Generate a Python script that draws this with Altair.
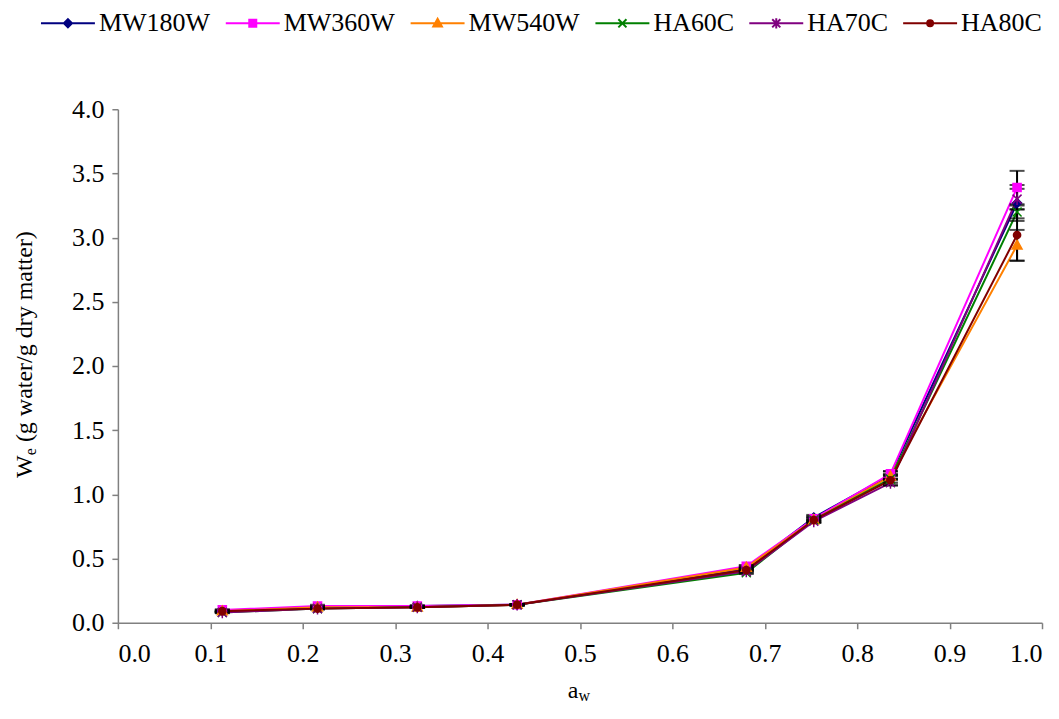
import altair as alt
import pandas as pd

# ---------------- data ----------------
series = ["MW180W", "MW360W", "MW540W", "HA60C", "HA70C", "HA80C"]
aw = [0.113, 0.216, 0.324, 0.432, 0.680, 0.753, 0.836, 0.973]

we_mw180w = [0.09, 0.12, 0.13, 0.14, 0.42, 0.82, 1.15, 3.27]
we_mw360w = [0.10, 0.13, 0.13, 0.14, 0.44, 0.81, 1.16, 3.39]
we_mw540w = [0.09, 0.12, 0.12, 0.14, 0.43, 0.80, 1.14, 2.94]
we_ha60c = [0.08, 0.11, 0.12, 0.14, 0.39, 0.80, 1.12, 3.20]
we_ha70c = [0.08, 0.11, 0.12, 0.14, 0.40, 0.79, 1.09, 3.30]
we_ha80c = [0.09, 0.11, 0.12, 0.14, 0.41, 0.80, 1.11, 3.02]

err_mw180w = [0.005, 0.010, 0.005, 0.005, 0.010, 0.020, 0.030, 0.14]
err_mw360w = [0.005, 0.010, 0.005, 0.005, 0.010, 0.020, 0.020, 0.13]
err_mw540w = [0.005, 0.005, 0.005, 0.005, 0.010, 0.010, 0.020, 0.12]
err_ha60c = [0.005, 0.005, 0.005, 0.005, 0.010, 0.020, 0.030, 0.05]
err_ha70c = [0.005, 0.005, 0.005, 0.005, 0.010, 0.010, 0.020, 0.08]
err_ha80c = [0.005, 0.005, 0.005, 0.005, 0.010, 0.020, 0.040, 0.20]

x_ticks = [0.0, 0.1, 0.2, 0.3, 0.4, 0.5, 0.6, 0.7, 0.8, 0.9, 1.0]
y_ticks = [0.0, 0.5, 1.0, 1.5, 2.0, 2.5, 3.0, 3.5, 4.0]

# ---------------- styles ----------------
colors = ["#000080", "#FF00FF", "#FF8000", "#008000", "#800080", "#800000"]
marker_paths = [
    "M0,-1L1,0L0,1L-1,0Z",
    "M-0.9,-0.9H0.9V0.9H-0.9Z",
    "M0,-1.15L1.1,0.8H-1.1Z",
    "M-1,-1L1,1M-1,1L1,-1",
    "M-1,-1L1,1M-1,1L1,-1M0,-1.3L0,1.3",
    "M0.8,0A0.8,0.8 0 1,1 -0.8,0A0.8,0.8 0 1,1 0.8,0Z",
]
legend_paths = [
    "M-1,0H1M0,-0.15L0.15,0L0,0.15L-0.15,0Z",
    "M-1,0H1M-0.13,-0.13H0.13V0.13H-0.13Z",
    "M-1,0H1M0,-0.17L0.16,0.12H-0.16Z",
    "M-1,0H1M-0.15,-0.15L0.15,0.15M-0.15,0.15L0.15,-0.15",
    "M-1,0H1M-0.15,-0.15L0.15,0.15M-0.15,0.15L0.15,-0.15M0,-0.19L0,0.19",
    "M-1,0H1M0.11,0A0.11,0.11 0 1,1 -0.11,0A0.11,0.11 0 1,1 0.11,0Z",
]
FONT = "'Liberation Serif', 'Times New Roman', Times, serif"

values = [we_mw180w, we_mw360w, we_mw540w, we_ha60c, we_ha70c, we_ha80c]
errors = [err_mw180w, err_mw360w, err_mw540w, err_ha60c, err_ha70c, err_ha80c]
rows = []
for s, vals, errs in zip(series, values, errors):
    for a, v, e in zip(aw, vals, errs):
        rows.append({"series": s, "aw": a, "we": v, "lo": v - e, "hi": v + e})
df = pd.DataFrame(rows)

x_enc = alt.X("aw:Q", scale=alt.Scale(domain=[0, 1], nice=False, zero=False),
              axis=alt.Axis(values=x_ticks, format=".1f", title=None, labelPadding=12))
y_enc = alt.Y("we:Q", scale=alt.Scale(domain=[0, 4], nice=False),
              axis=alt.Axis(values=y_ticks, format=".1f", title=None, labelPadding=8))

def col_scale():
    return alt.Scale(domain=series, range=colors)

base = alt.Chart(df)

lines = base.mark_line(strokeWidth=2).encode(
    x=x_enc, y=y_enc,
    stroke=alt.Stroke("series:N", scale=col_scale(), legend=None),
)

err_rules = base.mark_rule(color="black", strokeWidth=2).encode(
    x=x_enc, y=alt.Y("lo:Q"), y2="hi:Q")
cap_lo = base.mark_tick(color="black", thickness=2, size=15, orient="horizontal").encode(
    x=x_enc, y=alt.Y("lo:Q"))
cap_hi = base.mark_tick(color="black", thickness=2, size=15, orient="horizontal").encode(
    x=x_enc, y=alt.Y("hi:Q"))

points = base.mark_point(filled=True, size=81, strokeWidth=1.5, opacity=1).encode(
    x=x_enc, y=y_enc,
    shape=alt.Shape("series:N", scale=alt.Scale(domain=series, range=marker_paths), legend=None),
    fill=alt.Fill("series:N", scale=col_scale(), legend=None),
    stroke=alt.Stroke("series:N", scale=col_scale(), legend=None),
)

leg = alt.Legend(title=None, orient="none", legendX=-78, legendY=-114,
                 direction="horizontal", columns=6, symbolSize=2916,
                 symbolStrokeWidth=2, symbolOpacity=1, labelFont=FONT,
                 labelFontSize=26, labelColor="black", labelOffset=3,
                 columnPadding=11, padding=0)

legend_layer = base.mark_point(filled=True, size=64, opacity=0).encode(
    x=x_enc, y=y_enc,
    shape=alt.Shape("series:N", scale=alt.Scale(domain=series, range=legend_paths), legend=leg),
    fill=alt.Fill("series:N", scale=col_scale(), legend=leg),
    stroke=alt.Stroke("series:N", scale=col_scale(), legend=leg),
)

# axis titles (with subscripts)
def txt(t, x, y, size, align, angle=0):
    return alt.Chart(pd.DataFrame({"t": [t]})).mark_text(
        font=FONT, fontSize=size, align=align, baseline="alphabetic",
        angle=angle, color="black").encode(text="t:N", x=alt.value(x), y=alt.value(y))

xt_a = txt("a", 461, 589, 24, "right")
xt_w = txt("w", 461, 592, 16, "left")
yt_W = txt("W", -86, 369, 24, "left", 270)
yt_e = txt("e", -82, 346.3, 16, "left", 270)
yt_rest = txt("(g water/g dry matter)", -86, 333.2, 24, "left", 270)

chart = alt.layer(
    lines, err_rules, cap_lo, cap_hi, points, legend_layer,
    xt_a, xt_w, yt_W, yt_e, yt_rest,
).resolve_scale(
    shape="independent", fill="independent", stroke="independent"
).properties(
    width=925, height=514,
    autosize=alt.AutoSizeParams(type="none"),
    padding={"left": 110, "top": 101, "right": 9, "bottom": 85},
).configure_view(stroke=None).configure_axis(
    grid=False, domainColor="#808080", tickColor="#808080", domainWidth=1.5,
    tickWidth=1.5, tickSize=6, labelFont=FONT, labelFontSize=26, labelColor="black",
)

chart.save("out.html", embed_options={"renderer": "svg", "actions": False})
